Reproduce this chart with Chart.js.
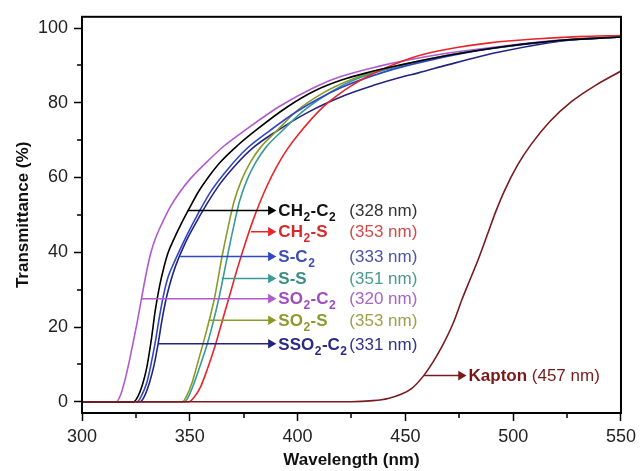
<!DOCTYPE html>
<html><head><meta charset="utf-8">
<script src="https://cdn.jsdelivr.net/npm/chart.js@4.4.1/dist/chart.umd.min.js"></script>
<style>html,body{margin:0;padding:0;background:#fff;}canvas{display:block;}</style>
</head><body>
<canvas id="c" width="641" height="471"></canvas>
<script>
// ---------- data (wavelength in nm, transmittance in %) ----------
const wlCH2C2 = [300,324,326,328,330,332,334,336,338,340,343,346,350,354,358,364,372,381,395,408,420,432,447,470,495,520,550];
const tCH2C2  = [0,0,1.5,4.5,9,16,24.5,31,36,40,44,47.6,52,56.2,59.6,64,68.5,72.8,78.8,83.2,86,88,90,92.7,95,96.6,97.6];

const wlCH2S = [300,349.5,352,355,358,361.5,365,368.5,372,375.5,379,382.5,386,390,395,401,411.5,418,425,432,441,456,470,490,508,530,550];
const tCH2S  = [0,0,1.2,4,8.5,14.5,21.5,28.5,35.5,42,48,53.3,58,62.6,67.4,72,78.7,81.8,84.6,86.9,89.4,92.6,94.4,96.1,97,97.7,98];

const wlSC2 = [300,325.5,327.5,330,332,334,336,338,340,342.5,345.5,349,353.8,360,368,376,387,400,420,440,460,490,520,550];
const tSC2  = [0,0,1.5,5,10,16,23,29,33.5,37,40.8,45,50.3,56.5,62.5,67.5,72.5,77.8,84,88.2,91.2,94.5,96.5,97.6];

const wlSS = [300,347.5,349.5,352,355,357.6,360.5,363.8,367.3,370,373,376.5,380.5,385.5,392.5,402,413,425,438,450,470,495,520,550];
const tSS  = [0,0,1.5,5,10,14.5,20.5,28.5,38.5,46,53.5,59.3,64,68.2,72.3,77.5,82,85.8,88.4,90.2,92.7,94.9,96.6,97.6];

const wlSO2C2 = [300,316,318,320,322,323,325.5,327.6,330,332,334,337,341,345,350,357.6,366,376,391.5,408.4,420,438,450,470,493,520,550];
const tSO2C2  = [0,0,2,6,11,13.8,21,27.6,35,40,43.6,47.6,52.2,55.8,59.5,64,68.5,72.8,79,84.3,87,89.8,91.3,93.3,95,96.7,97.8];

const wlSO2S = [300,346.5,348.5,351,353,355.3,358,361.5,365,367.5,370.5,374,378,383,390,400,411.5,425,438,450,470,495,520,550];
const tSO2S  = [0,0,1.5,5,9,13.8,19.5,27.9,39,46,53.5,59.3,64,68.2,72.3,78,82.5,86.2,88.6,90.4,92.8,95,96.6,97.7];

const wlSSO2C2 = [300,327,329,331.5,333.5,335.3,337,339,341,343.5,347.5,352,358,364,371.5,379,390,405,422,436,447,456,470,493,516,530,550];
const tSSO2C2  = [0,0,1.5,5.5,10,15.5,21.5,27.5,32,36.5,42,47,53,58.3,63.5,67.8,72.3,77.5,82,84.8,86.7,88,90.2,93.5,96,97,97.6];

const wlKapton = [300,425,435,442,448,453,458.5,463,467,472,476.2,480,484,488.5,492,496,502,508.5,517,527,538,550];
const tKapton  = [0,0,0.3,0.9,2,3.6,7,10.8,14.8,20.8,27.3,32.7,38.4,45.5,51,56.5,63.3,69,75,80.3,84.6,88.5];

// ---------- annotations ----------
const seriesNames   = ['CH_2-C_2','CH_2-S','S-C_2','S-S','SO_2-C_2','SO_2-S','SSO_2-C_2','Kapton'];
const cutoffLabels  = ['(328 nm)','(353 nm)','(333 nm)','(351 nm)','(320 nm)','(353 nm)','(331 nm)','(457 nm)'];
const arrowStartWl  = [349.1,378.4,345.5,364.8,327.6,359.2,335.5,458.5];
const arrowT        = [51.2,45.5,38.9,33.0,27.6,21.8,15.5,7.0];
const arrowEndWl    = [387.6,387.6,387.6,387.6,387.6,387.6,387.6,475.8];
const cutoffColumnWl = 424;

const yMinorTicks = [10,30,50,70,90];
const xMinorTicks = [325,375,425,475,525];

// ---------- styles ----------
const FAM = '"Liberation Sans", Arial, Helvetica, sans-serif';
const lineColors = ['#000000','#e8262a','#3046c8','#3a9a96','#b05ad0','#8a9c26','#24247e','#7a1a1e'];
const nameColors = ['#111111','#d42a2a','#3d4fb5','#3b8c86','#a04cc0','#8c9a2e','#2b2b85','#7a1818'];
const nmColors   = ['#333333','#d24a4a','#4a55a8','#4a9a90','#a864c4','#98a24a','#2e3488','#7a1818'];

const seriesWl = [wlCH2C2, wlCH2S, wlSC2, wlSS, wlSO2C2, wlSO2S, wlSSO2C2, wlKapton];
const seriesT  = [tCH2C2, tCH2S, tSC2, tSS, tSO2C2, tSO2S, tSSO2C2, tKapton];

const datasets = [];
seriesWl.forEach((wl, i) => {
  datasets.push({
    label: seriesNames[i],
    data: wl.map((x, k) => ({x, y: seriesT[i][k]})),
    borderColor: lineColors[i],
    borderWidth: 1.6,
    pointRadius: 0,
    cubicInterpolationMode: 'monotone',
    fill: false,
    order: i === 7 ? 1 : 2 + i
  });
});
const ARROW_R = 5.5;
seriesNames.forEach((n, i) => {
  datasets.push({
    label: 'arrow ' + n,
    data: [{x: arrowStartWl[i], y: arrowT[i]}, {x: arrowEndWl[i], y: arrowT[i]}],
    borderColor: lineColors[i],
    borderWidth: 1.5,
    pointRadius: [0, ARROW_R],
    pointStyle: 'triangle',
    pointRotation: 90,
    pointBackgroundColor: lineColors[i],
    pointBorderWidth: 0,
    order: 0
  });
});

function drawRich(ctx, str, x, y, size, color) {
  ctx.fillStyle = color;
  ctx.textBaseline = 'middle';
  ctx.textAlign = 'left';
  const parts = str.split(/(_\d)/);
  for (const p of parts) {
    if (!p) continue;
    if (p[0] === '_') {
      ctx.font = `bold ${Math.round(size*0.7)}px ${FAM}`;
      ctx.fillText(p[1], x + 0.5, y + size*0.38);
      x += ctx.measureText(p[1]).width + 1;
    } else {
      ctx.font = `bold ${size}px ${FAM}`;
      ctx.fillText(p, x, y);
      x += ctx.measureText(p).width;
    }
  }
  return x;
}

const decorPlugin = {
  id: 'decor',
  afterDraw(chart) {
    const {ctx, chartArea: a, scales: {x, y}} = chart;
    ctx.save();
    ctx.strokeStyle = '#000';
    ctx.lineWidth = 2;
    ctx.strokeRect(a.left, a.top, a.right - a.left, a.bottom - a.top);
    ctx.lineWidth = 1.5;
    ctx.beginPath();
    yMinorTicks.forEach(v => { const py = Math.round(y.getPixelForValue(v)); ctx.moveTo(a.left, py); ctx.lineTo(a.left - 5, py); });
    xMinorTicks.forEach(v => { const px = Math.round(x.getPixelForValue(v)); ctx.moveTo(px, a.bottom); ctx.lineTo(px, a.bottom + 5); });
    ctx.stroke();
    const size = 17;
    seriesNames.forEach((n, i) => {
      const px = x.getPixelForValue(arrowEndWl[i]) + ARROW_R + 2;
      const py = y.getPixelForValue(arrowT[i]) + 1;
      const endX = drawRich(ctx, n, px, py, size, nameColors[i]);
      ctx.font = `${size}px ${FAM}`;
      ctx.fillStyle = nmColors[i];
      if (i === 7) {
        ctx.fillText(' ' + cutoffLabels[i], endX, py);
      } else {
        ctx.fillText(cutoffLabels[i], x.getPixelForValue(cutoffColumnWl), py);
      }
    });
    ctx.restore();
  }
};

new Chart(document.getElementById('c'), {
  type: 'line',
  data: {datasets},
  plugins: [decorPlugin],
  options: {
    responsive: false,
    animation: false,
    devicePixelRatio: 1,
    layout: {padding: {top: 12, right: 18, left: 0, bottom: 0}},
    plugins: {legend: {display: false}, tooltip: {enabled: false}},
    scales: {
      x: {
        type: 'linear', min: 300, max: 550,
        ticks: {stepSize: 50, includeBounds: false, maxRotation: 0, padding: 5, color: '#222', font: {size: 18, family: FAM}},
        grid: {display: true, drawOnChartArea: false, drawTicks: true, tickLength: 8, tickWidth: 1.5, tickColor: '#000'},
        border: {display: true, color: '#000', width: 2},
        title: {display: true, text: 'Wavelength (nm)', color: '#111', font: {size: 17, weight: 'bold', family: FAM}, padding: {top: 0, bottom: 0}},
        afterFit(s) { s.height = 58; }
      },
      y: {
        type: 'linear', min: -3, max: 103,
        ticks: {stepSize: 20, includeBounds: false, padding: 6, color: '#222', font: {size: 18, family: FAM}},
        grid: {display: true, drawOnChartArea: false, drawTicks: true, tickLength: 8, tickWidth: 1.5, tickColor: '#000'},
        border: {display: true, color: '#000', width: 2},
        title: {display: true, text: 'Transmittance (%)', color: '#111', font: {size: 17, weight: 'bold', family: FAM}, padding: {top: 13, bottom: 0}},
        afterFit(s) { s.width = 82; }
      }
    }
  }
});
</script>
</body></html>
